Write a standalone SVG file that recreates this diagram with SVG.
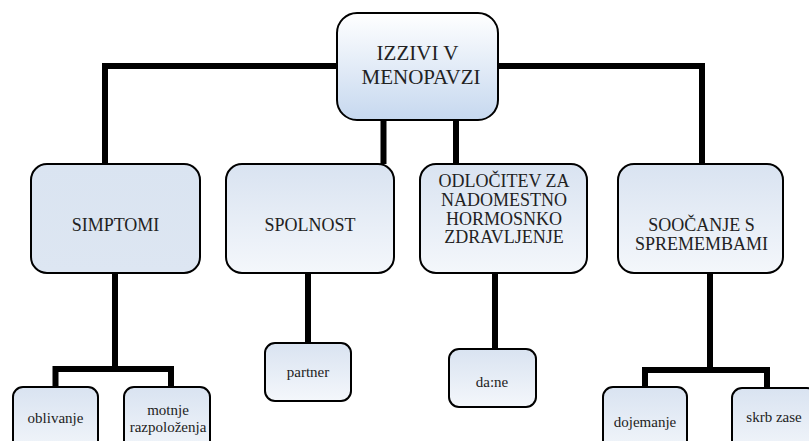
<svg xmlns="http://www.w3.org/2000/svg" width="809" height="441" viewBox="0 0 809 441">
<defs>
<linearGradient id="gTop" x1="0" y1="0" x2="0" y2="1">
<stop offset="0" stop-color="#ffffff"/>
<stop offset="1" stop-color="#c6d8ef"/>
</linearGradient>
<linearGradient id="gDown" x1="0" y1="0" x2="0" y2="1">
<stop offset="0" stop-color="#d9e3f1"/>
<stop offset="1" stop-color="#f4f7fb"/>
</linearGradient>
<linearGradient id="gFlat" x1="0" y1="0" x2="0" y2="1">
<stop offset="0" stop-color="#dae4f1"/>
<stop offset="1" stop-color="#dde6f2"/>
</linearGradient>
</defs>
<style>
.box{stroke:#000;stroke-width:2}
.conn{fill:none;stroke:#000;stroke-width:6;stroke-linejoin:miter}
.lbl{font-family:"Liberation Serif","DejaVu Serif","Noto Serif",serif;fill:#222;text-anchor:middle}
.t1{font-size:21px}
.t2{font-size:18px}
.t3{font-size:15px}
</style>
<g id="connectors">
<path class="conn" d="M105,164 V66 H702 V164"/>
<path class="conn" d="M383.5,118 V164"/>
<path class="conn" d="M456,118 V164"/>
<path class="conn" d="M115,272 V369"/>
<path class="conn" d="M55.5,388 V369 H171 V388"/>
<path class="conn" d="M308,272 V344"/>
<path class="conn" d="M495,272 V350"/>
<path class="conn" d="M710,272 V370"/>
<path class="conn" d="M645,388 V370 H767 V389"/>
</g>
<g id="n-root">
<rect class="box" x="337" y="13" width="161" height="107" rx="20" fill="url(#gTop)"/>
<text class="lbl t1" x="417.5" y="60" font-family="Liberation Serif">IZZIVI V</text>
<text class="lbl t1" x="421" y="84" font-family="Liberation Serif">MENOPAVZI</text>
</g>
<g id="n-simptomi">
<rect class="box" x="31" y="164" width="169" height="109" rx="16" fill="url(#gFlat)"/>
<text class="lbl t2" x="115.5" y="231">SIMPTOMI</text>
</g>
<g id="n-spolnost">
<rect class="box" x="226" y="164" width="168" height="109" rx="16" fill="url(#gDown)"/>
<text class="lbl t2" x="310" y="231">SPOLNOST</text>
</g>
<g id="n-odlocitev">
<rect class="box" x="420" y="164" width="167" height="109" rx="16" fill="url(#gDown)"/>
<text class="lbl t2" x="504" y="187">ODLOČITEV ZA</text>
<text class="lbl t2" x="504" y="206">NADOMESTNO</text>
<text class="lbl t2" x="504" y="224.5">HORMOSNKO</text>
<text class="lbl t2" x="504" y="243">ZDRAVLJENJE</text>
</g>
<g id="n-soocanje">
<rect class="box" x="618" y="164" width="165" height="109" rx="16" fill="url(#gDown)"/>
<text class="lbl t2" x="701.5" y="231">SOOČANJE S</text>
<text class="lbl t2" x="701.5" y="250">SPREMEMBAMI</text>
</g>
<g id="n-oblivanje">
<rect class="box" x="13" y="387" width="85" height="70" rx="10" fill="url(#gDown)"/>
<text class="lbl t3" x="55.5" y="423">oblivanje</text>
</g>
<g id="n-motnje">
<rect class="box" x="124" y="387" width="86" height="70" rx="10" fill="url(#gDown)"/>
<text class="lbl t3" x="168" y="415">motnje</text>
<text class="lbl t3" x="168" y="432">razpoloženja</text>
</g>
<g id="n-partner">
<rect class="box" x="265" y="343" width="86" height="58" rx="10" fill="url(#gDown)"/>
<text class="lbl t3" x="308" y="377">partner</text>
</g>
<g id="n-dane">
<rect class="box" x="449" y="349" width="87" height="58" rx="10" fill="url(#gDown)"/>
<text class="lbl t3" x="492" y="387">da:ne</text>
</g>
<g id="n-dojemanje">
<rect class="box" x="603" y="387" width="84" height="70" rx="10" fill="url(#gDown)"/>
<text class="lbl t3" x="645" y="427">dojemanje</text>
</g>
<g id="n-skrb">
<rect class="box" x="732" y="388" width="85" height="70" rx="10" fill="url(#gDown)"/>
<text class="lbl t3" x="774" y="422">skrb zase</text>
</g>
</svg>
